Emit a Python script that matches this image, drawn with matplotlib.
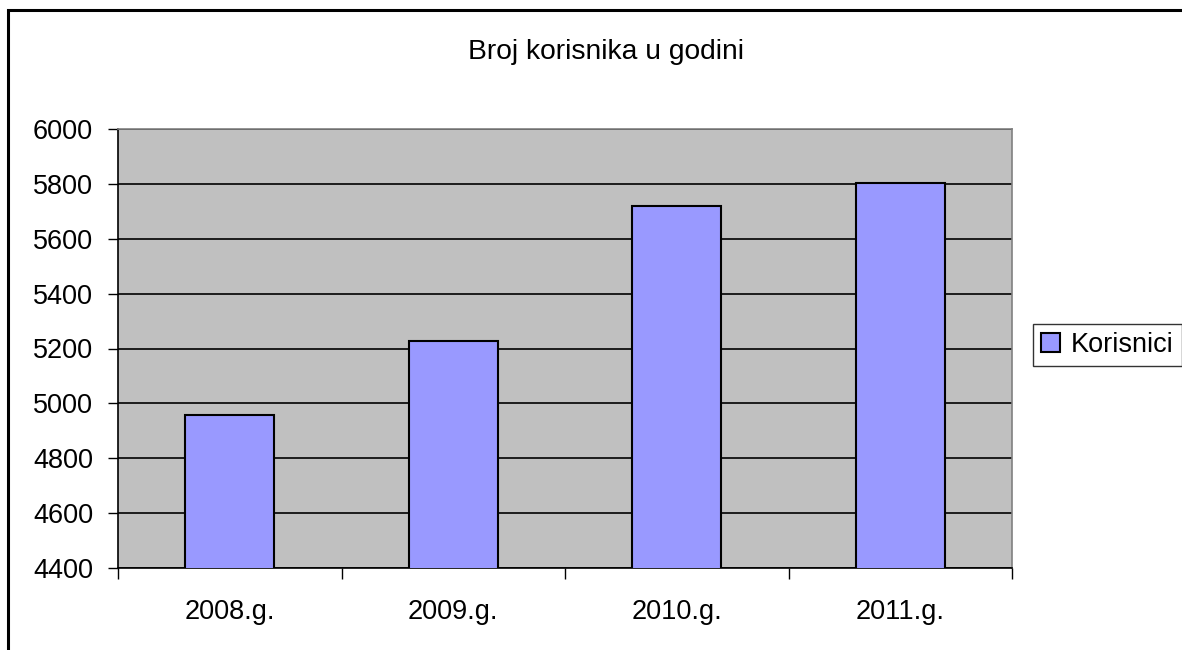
import matplotlib
matplotlib.use('Agg')
import matplotlib.pyplot as plt
from matplotlib.patches import Rectangle
import numpy as np

plt.rcParams['font.family'] = ['Liberation Sans', 'DejaVu Sans']

years = ['2008.g.', '2009.g.', '2010.g.', '2011.g.']
korisnici = [4957, 5228, 5719, 5805]
yticks = [4400, 4600, 4800, 5000, 5200, 5400, 5600, 5800, 6000]

W, H = 1182, 650
fig = plt.figure(figsize=(W / 100, H / 100), dpi=100)

# outer chart border (cut at right/bottom like the original)
fig.patches.append(Rectangle((8 / W, -0.1), 1.2, 1 - 10 / H + 0.1, transform=fig.transFigure,
                             fill=False, edgecolor='black', linewidth=2.2))

ax = fig.add_axes([118 / W, 1 - 568 / H, (1012 - 118) / W, (568 - 129) / H])
ax.set_facecolor('#c0c0c0')

x = np.arange(len(years))
bars = ax.bar(x, korisnici, width=0.4, color='#9999ff', edgecolor='black', linewidth=1.5,
              label='Korisnici', zorder=3)

ax.set_ylim(4400, 6000)
ax.set_xlim(-0.5, len(years) - 0.5)
ax.set_yticks(yticks)
ax.set_yticklabels([str(v) for v in yticks], fontsize=19.5)
ax.yaxis.grid(True, color='black', linewidth=1.2, zorder=1)
ax.set_axisbelow(True)

ax.set_xticks(x)
ax.set_xticklabels(years, fontsize=19.5)
ax.tick_params(axis='x', length=0, pad=22)
ax.set_xticks(np.arange(len(years) + 1) - 0.5, minor=True)
ax.tick_params(axis='x', which='minor', length=8, width=1, color='black', direction='out')
ax.tick_params(axis='y', length=7, width=1, direction='out', pad=11)

for side in ['top', 'right']:
    ax.spines[side].set_color('#808080')
    ax.spines[side].set_linewidth(1.2)
ax.spines['left'].set_linewidth(1.2)
ax.spines['bottom'].set_linewidth(1.2)

fig.text(606 / W, 1 - 52 / H, 'Broj korisnika u godini', ha='center', va='center',
         fontsize=20.3)

leg = fig.legend(handles=[bars], labels=['Korisnici'], loc='upper left',
                 bbox_to_anchor=(1033 / W, 1 - 324 / H), fontsize=19.5, frameon=True,
                 fancybox=False, edgecolor='black', handlelength=0.7, handleheight=0.7,
                 handletextpad=0.4, borderpad=0.3, borderaxespad=0)
leg.get_frame().set_linewidth(1.0)

fig.savefig('out.png', dpi=100, facecolor='white')
